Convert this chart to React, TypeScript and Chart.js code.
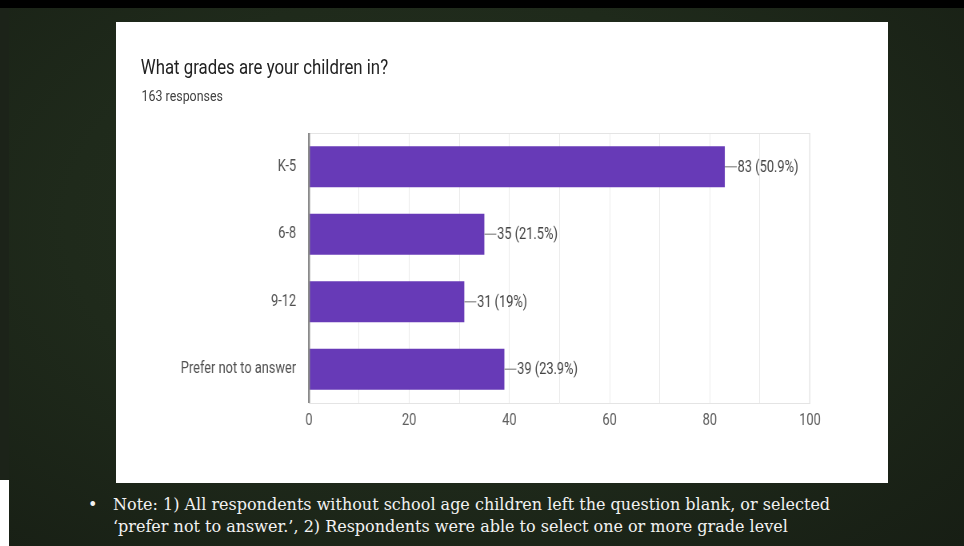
import React, { useEffect, useRef } from "react";
import { Chart, registerables } from "chart.js";

Chart.register(...registerables);

const categories = ["K-5", "6-8", "9-12", "Prefer not to answer"];
const counts = [83, 35, 31, 39];
const percents = ["50.9", "21.5", "19", "23.9"];
const axisMin = 0;
const axisMax = 100;
const gridStep = 10;
const labelStep = 20;

const titleText = "What grades are your children in?";
const subtitleText = "163 responses";
const noteLine1 = "Note: 1) All respondents without school age children left the question blank, or selected";
const noteLine2 = "\u2018prefer not to answer.\u2019, 2) Respondents were able to select one or more grade level";

const SX = 0.8; // horizontal squish of the embedded screenshot
const PANEL_W = 772;
const PANEL_H = 461;
const INNER_W = PANEL_W / SX;

const decor = {
  id: "decor",
  beforeDatasetsDraw(chart: any) {
    const { ctx, chartArea: a } = chart;
    ctx.save();
    ctx.strokeStyle = "#e4e4e4";
    ctx.lineWidth = 1;
    ctx.beginPath();
    ctx.moveTo(a.left, a.top + 0.5);
    ctx.lineTo(a.right, a.top + 0.5);
    ctx.moveTo(a.right - 0.5, a.top);
    ctx.lineTo(a.right - 0.5, a.bottom);
    ctx.stroke();
    ctx.restore();
  },
  afterDatasetsDraw(chart: any) {
    const { ctx, chartArea: a } = chart;
    const meta = chart.getDatasetMeta(0);
    ctx.save();
    ctx.font = "16px Roboto";
    ctx.textAlign = "left";
    ctx.textBaseline = "middle";
    meta.data.forEach((bar: any, i: number) => {
      const x = bar.x;
      const y = bar.y;
      ctx.strokeStyle = "#9e9e9e";
      ctx.lineWidth = 1.5;
      ctx.beginPath();
      ctx.moveTo(x, y);
      ctx.lineTo(x + 15, y);
      ctx.stroke();
      ctx.fillStyle = "#444444";
      ctx.fillText(`${counts[i]} (${percents[i]}%)`, x + 16, y + 1);
    });
    ctx.strokeStyle = "#8a8a8a";
    ctx.lineWidth = 2.5;
    ctx.beginPath();
    ctx.moveTo(a.left, a.top);
    ctx.lineTo(a.left, a.bottom);
    ctx.stroke();
    ctx.restore();
  },
};

function ChartPanel() {
  const ref = useRef<HTMLCanvasElement | null>(null);
  useEffect(() => {
    if (!ref.current) return;
    const chart = new Chart(ref.current, {
      type: "bar",
      data: {
        labels: categories,
        datasets: [
          {
            data: counts,
            backgroundColor: "#673ab7",
            borderWidth: 0,
            categoryPercentage: 1,
            barPercentage: 0.607,
          },
        ],
      },
      options: {
        indexAxis: "y",
        responsive: false,
        animation: false,
        devicePixelRatio: 1,
        layout: { padding: { left: 0, right: INNER_W - 867.5, top: 111, bottom: 50 } },
        plugins: { legend: { display: false }, tooltip: { enabled: false }, title: { display: false } },
        scales: {
          x: {
            min: axisMin,
            max: axisMax,
            grid: { color: "#ebebeb", lineWidth: 1, drawTicks: false },
            border: { display: true, color: "#e4e4e4", width: 1 },
            ticks: {
              stepSize: gridStep,
              autoSkip: false,
              maxRotation: 0,
              padding: 8,
              color: "#5f5f5f",
              font: { family: "Roboto", size: 16 },
              callback: (v: any) => (Number(v) % labelStep === 0 ? String(v) : ""),
            },
            afterFit: (s: any) => {
              s.height = 30;
            },
          },
          y: {
            grid: { display: false, drawTicks: false },
            border: { display: false },
            ticks: {
              padding: 16,
              color: "#505050",
              font: { family: "Roboto", size: 16 },
            },
            afterFit: (s: any) => {
              s.width = 241.25;
            },
          },
        },
      },
      plugins: [decor],
    } as any);
    return () => chart.destroy();
  }, []);
  return (
    <canvas
      ref={ref}
      width={INNER_W}
      height={PANEL_H}
      style={{ position: "absolute", left: 0, top: 0, width: INNER_W, height: PANEL_H }}
    />
  );
}

export default function App() {
  return (
    <div style={{ position: "fixed", left: 0, top: 0, width: 964, height: 546, background: "#ffffff", overflow: "hidden" }}>
      <div style={{ position: "absolute", left: 0, top: 0, width: 964, height: 8, background: "#000" }} />
      <div style={{ position: "absolute", left: 0, top: 8, width: 9, height: 472, background: "#1c2319" }} />
      <div
        style={{
          position: "absolute",
          left: 9,
          top: 8,
          width: 955,
          height: 538,
          background: "radial-gradient(ellipse at 45% 40%, #25311f 0%, #1f2a1b 50%, #171e14 100%)",
        }}
      />
      <div style={{ position: "absolute", left: 116, top: 22, width: PANEL_W, height: PANEL_H, background: "#fff", overflow: "hidden" }}>
        <div
          style={{
            position: "absolute",
            left: 0,
            top: 0,
            width: INNER_W,
            height: PANEL_H,
            transform: `scaleX(${SX})`,
            transformOrigin: "0 0",
          }}
        >
          <div
            style={{
              position: "absolute",
              left: 31,
              top: 34.5,
              font: "21px Roboto",
              lineHeight: "21px",
              color: "#212121",
              whiteSpace: "nowrap",
            }}
          >
            {titleText}
          </div>
          <div
            style={{
              position: "absolute",
              left: 32,
              top: 67,
              font: "15.5px Roboto",
              lineHeight: "15px",
              color: "#424242",
              whiteSpace: "nowrap",
            }}
          >
            {subtitleText}
          </div>
          <ChartPanel />
        </div>
      </div>
      <div
        style={{
          position: "absolute",
          left: 88,
          top: 494,
          font: "16px 'DejaVu Serif'",
          lineHeight: "22px",
          color: "#f2f2f2",
          whiteSpace: "nowrap",
        }}
      >
        <div style={{ position: "relative", paddingLeft: 25 }}>
          <span style={{ position: "absolute", left: 0, top: 0 }}>{"\u2022"}</span>
          {noteLine1}
        </div>
        <div style={{ paddingLeft: 25 }}>{noteLine2}</div>
      </div>
    </div>
  );
}
